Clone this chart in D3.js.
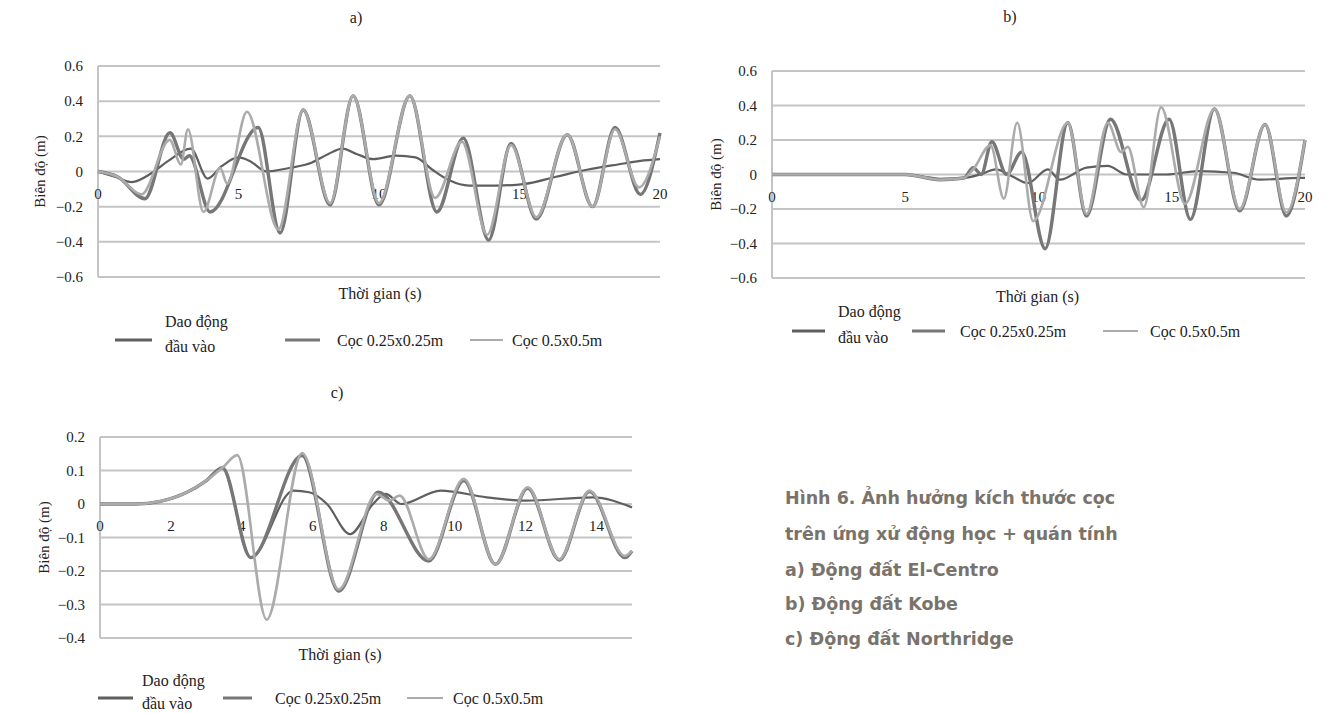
<!DOCTYPE html>
<html>
<head>
<meta charset="utf-8">
<script src="https://cdn.jsdelivr.net/npm/d3@7"></script>
<style>
  html, body { margin: 0; padding: 0; background: #ffffff; }
  svg { display: block; }
  .tick-label, .axis-title, .legend-text, .panel-title { font-family: "Liberation Serif", "Times New Roman", serif; fill: #222; }
  .caption { font-family: "DejaVu Sans", Verdana, sans-serif; font-weight: bold; fill: #7a736b; }
</style>
</head>
<body>
<svg id="chart" width="1333" height="713"></svg>
<script>
// ---- Series names and caption ----
const seriesNames = ["Dao động đầu vào", "Cọc 0.25x0.25m", "Cọc 0.5x0.5m"];
const captionLines = [
  "Hình 6. Ảnh hưởng kích thước cọc",
  "trên ứng xử động học + quán tính",
  "a) Động đất El-Centro",
  "b) Động đất Kobe",
  "c) Động đất Northridge"
];

// ---- a) El-Centro : [time (s), displacement (m)] ----
const elCentroTicksX = [0, 5, 10, 15, 20];
const elCentroTicksY = [-0.6, -0.4, -0.2, 0, 0.2, 0.4, 0.6];
const elCentroInput = [
  [0, 0], [0.6, -0.03], [1.2, -0.06], [1.9, -0.01], [2.5, 0.06], [3.3, 0.13], [3.9, -0.04],
  [4.4, 0.03], [5.0, 0.08], [5.4, 0.06], [6.0, 0.0], [6.8, 0.02], [7.6, 0.05], [8.2, 0.1],
  [8.7, 0.13], [9.2, 0.1], [9.8, 0.07], [10.6, 0.09], [11.3, 0.08], [11.9, 0.01], [12.5, -0.05],
  [13.2, -0.08], [14.2, -0.08], [15.2, -0.07], [16.3, -0.03], [17.4, 0.01], [18.5, 0.04],
  [19.3, 0.06], [20, 0.07]
];
const elCentroPile25 = [
  [0, 0], [0.7, -0.03], [1.67, -0.155], [2.56, 0.22], [3.05, 0.07], [3.25, 0.09], [3.99, -0.23],
  [5.7, 0.25], [6.48, -0.35], [7.3, 0.35], [8.26, -0.19], [9.08, 0.43], [10.0, -0.19],
  [11.1, 0.43], [12.06, -0.23], [13.0, 0.19], [13.9, -0.39], [14.7, 0.16], [15.6, -0.27],
  [16.7, 0.21], [17.6, -0.2], [18.4, 0.25], [19.3, -0.13], [20, 0.22]
];
const elCentroPile50 = [
  [0, 0], [0.7, -0.03], [1.55, -0.13], [2.55, 0.18], [2.95, 0.04], [3.2, 0.24], [3.75, -0.23],
  [4.35, 0.02], [4.6, -0.07], [5.3, 0.34], [6.42, -0.33], [7.3, 0.35], [8.26, -0.18],
  [9.08, 0.43], [10.0, -0.18], [11.1, 0.43], [12.0, -0.15], [12.95, 0.17], [13.85, -0.36],
  [14.7, 0.15], [15.6, -0.26], [16.7, 0.21], [17.6, -0.2], [18.4, 0.24], [19.25, -0.09], [20, 0.2]
];

// ---- b) Kobe ----
const kobeTicksX = [0, 5, 10, 15, 20];
const kobeTicksY = [-0.6, -0.4, -0.2, 0, 0.2, 0.4, 0.6];
const kobeInput = [
  [0, 0], [4.8, 0], [5.6, -0.01], [6.3, -0.025], [7.2, -0.02], [7.8, 0.0], [8.4, 0.03],
  [9.0, -0.01], [9.6, -0.05], [10.35, 0.03], [10.8, -0.03], [11.8, 0.04], [12.6, 0.05],
  [13.3, 0.0], [14.8, 0.0], [16.0, 0.02], [17.3, 0.01], [18.3, -0.03], [19.8, -0.02], [20, -0.02]
];
const kobePile25 = [
  [0, 0], [5, 0], [6.3, -0.03], [7.2, -0.02], [7.55, 0.04], [7.85, 0.0], [8.25, 0.19],
  [8.8, 0.0], [9.37, 0.13], [10.25, -0.43], [11.1, 0.3], [11.8, -0.24], [12.7, 0.32],
  [13.85, -0.15], [14.9, 0.32], [15.7, -0.26], [16.6, 0.38], [17.55, -0.21], [18.5, 0.29],
  [19.3, -0.24], [20, 0.2]
];
const kobePile50 = [
  [0, 0], [5, 0], [6.3, -0.03], [7.2, -0.02], [7.55, 0.03], [8.2, 0.17], [8.7, -0.14],
  [9.2, 0.3], [9.8, -0.27], [11.1, 0.3], [11.8, -0.23], [12.6, 0.3], [13.1, 0.13],
  [13.35, 0.16], [13.95, -0.19], [14.6, 0.39], [15.5, -0.17], [16.6, 0.38], [17.55, -0.2],
  [18.5, 0.29], [19.3, -0.22], [20, 0.2]
];

// ---- c) Northridge ----
const northridgeTicksX = [0, 2, 4, 6, 8, 10, 12, 14];
const northridgeTicksY = [-0.4, -0.3, -0.2, -0.1, 0, 0.1, 0.2];
const northridgeInput = [
  [0, 0], [1, 0], [1.7, 0.008], [2.45, 0.035], [3.0, 0.07], [3.45, 0.108], [4.25, -0.16],
  [5.45, 0.04], [5.9, 0.035], [6.4, 0.0], [7.05, -0.09], [7.7, 0.0], [8.05, 0.03], [8.5, 0.0],
  [9.6, 0.04], [10.9, 0.02], [12.0, 0.01], [13.9, 0.02], [15, -0.01]
];
const northridgePile25 = [
  [0, 0], [1, 0], [1.7, 0.008], [2.45, 0.035], [3.0, 0.07], [3.45, 0.108], [4.25, -0.16],
  [5.7, 0.145], [6.73, -0.26], [7.85, 0.035], [9.27, -0.17], [10.26, 0.07], [11.15, -0.18],
  [12.06, 0.047], [12.95, -0.167], [13.8, 0.037], [14.8, -0.16], [15, -0.14]
];
const northridgePile50 = [
  [0, 0], [1, 0], [1.7, 0.008], [2.45, 0.035], [3.0, 0.07], [3.45, 0.108], [3.87, 0.146],
  [4.7, -0.345], [5.7, 0.152], [6.73, -0.255], [7.8, 0.03], [8.15, 0.01], [8.45, 0.025],
  [9.27, -0.165], [10.26, 0.075], [11.15, -0.18], [12.06, 0.05], [12.95, -0.165],
  [13.8, 0.04], [14.8, -0.155], [15, -0.14]
];

// ---- Line styles for the three series ----
const seriesStyle = [
  { color: "#5f5f5f", width: 2.2 },
  { color: "#777777", width: 3.4 },
  { color: "#ababab", width: 2.6 }
];

const svg = d3.select("#chart");

function drawPanel(p) {
  const g = svg.append("g");
  const x = d3.scaleLinear().domain(p.xDomain).range([p.left, p.right]);
  const y = d3.scaleLinear().domain(p.yDomain).range([p.bottom, p.top]);

  // horizontal gridlines
  g.selectAll("line.grid").data(p.ticksY).join("line")
    .attr("x1", p.left).attr("x2", p.right)
    .attr("y1", d => y(d)).attr("y2", d => y(d))
    .attr("stroke", "#c4c4c4").attr("stroke-width", 2);

  // left axis line
  g.append("line")
    .attr("x1", p.left).attr("x2", p.left)
    .attr("y1", y(p.yDomain[0])).attr("y2", y(p.yDomain[1]))
    .attr("stroke", "#c4c4c4").attr("stroke-width", 2);

  // y tick labels
  const yFmt = v => (v === 0 ? "0" : d3.format(".1f")(v));
  g.selectAll("text.ytick").data(p.ticksY).join("text")
    .attr("class", "tick-label")
    .attr("x", p.left - 15).attr("y", d => y(d))
    .attr("dy", "0.35em").attr("text-anchor", "end")
    .attr("font-size", 15)
    .text(yFmt);

  // x tick labels sit just under the zero line
  g.selectAll("text.xtick").data(p.ticksX).join("text")
    .attr("class", "tick-label")
    .attr("x", d => x(d)).attr("y", y(0) + 27)
    .attr("text-anchor", "middle")
    .attr("font-size", 15)
    .text(d => d);

  // series lines
  const line = d3.line().x(d => x(d[0])).y(d => y(d[1])).curve(d3.curveMonotoneX);
  [p.input, p.pile25, p.pile50].forEach((s, i) => {
    g.append("path").datum(s)
      .attr("d", line)
      .attr("fill", "none")
      .attr("stroke", seriesStyle[i].color)
      .attr("stroke-width", seriesStyle[i].width)
      .attr("stroke-linejoin", "round");
  });

  // titles
  g.append("text").attr("class", "panel-title")
    .attr("x", p.titleX).attr("y", p.titleY)
    .attr("text-anchor", "middle").attr("font-size", 16)
    .text(p.title);
  g.append("text").attr("class", "axis-title")
    .attr("x", (p.left + p.right) / 2 + p.xTitleShift).attr("y", p.xTitleY)
    .attr("text-anchor", "middle").attr("font-size", 16)
    .text("Thời gian (s)");
  g.append("text").attr("class", "axis-title")
    .attr("transform", `translate(${p.yTitleX},${(y(p.yDomain[0]) + y(p.yDomain[1])) / 2}) rotate(-90)`)
    .attr("text-anchor", "middle").attr("dy", "0.35em").attr("font-size", 15)
    .text("Biên độ (m)");

  // legend
  const L = p.legend;
  const words = seriesNames[0].split(" ");
  L.lines.forEach((ln, i) => {
    g.append("line")
      .attr("x1", ln[0]).attr("x2", ln[1]).attr("y1", L.y).attr("y2", L.y)
      .attr("stroke", seriesStyle[i].color)
      .attr("stroke-width", i === 2 ? 2 : 3);
  });
  g.append("text").attr("class", "legend-text").attr("font-size", L.size)
    .attr("x", L.textX[0]).attr("y", L.y - L.gapUp).text(words.slice(0, 2).join(" "));
  g.append("text").attr("class", "legend-text").attr("font-size", L.size)
    .attr("x", L.textX[0]).attr("y", L.y + L.gapDown).text(words.slice(2).join(" "));
  [1, 2].forEach(i => {
    g.append("text").attr("class", "legend-text").attr("font-size", L.size)
      .attr("x", L.textX[i]).attr("y", L.y).attr("dy", "0.35em")
      .text(seriesNames[i]);
  });
}

drawPanel({
  title: "a)", titleX: 356, titleY: 23,
  xDomain: [0, 20], yDomain: [-0.6, 0.6],
  left: 98, right: 660, top: 66, bottom: 277,
  ticksX: elCentroTicksX, ticksY: elCentroTicksY,
  input: elCentroInput, pile25: elCentroPile25, pile50: elCentroPile50,
  xTitleShift: 1, xTitleY: 299, yTitleX: 40,
  legend: { y: 340, size: 16, gapUp: 13, gapDown: 12, lines: [[115, 152], [285, 320], [470, 503]], textX: [165, 337, 512] }
});

drawPanel({
  title: "b)", titleX: 1010, titleY: 22,
  xDomain: [0, 20], yDomain: [-0.6, 0.6],
  left: 772, right: 1305, top: 71, bottom: 278,
  ticksX: kobeTicksX, ticksY: kobeTicksY,
  input: kobeInput, pile25: kobePile25, pile50: kobePile50,
  xTitleShift: -1, xTitleY: 302, yTitleX: 716,
  legend: { y: 331, size: 16, gapUp: 14, gapDown: 12, lines: [[792, 825], [912, 945], [1103, 1138]], textX: [838, 960, 1150] }
});

drawPanel({
  title: "c)", titleX: 337, titleY: 398,
  xDomain: [0, 15], yDomain: [-0.4, 0.2],
  left: 100, right: 632, top: 437, bottom: 638,
  ticksX: northridgeTicksX, ticksY: northridgeTicksY,
  input: northridgeInput, pile25: northridgePile25, pile50: northridgePile50,
  xTitleShift: -26, xTitleY: 660, yTitleX: 44,
  legend: { y: 698, size: 16, gapUp: 12, gapDown: 11, lines: [[98, 133], [223, 252], [407, 443]], textX: [142, 275, 453] }
});

// figure caption
svg.append("g").selectAll("text").data(captionLines).join("text")
  .attr("class", "caption")
  .attr("x", 785)
  .attr("y", (d, i) => [504, 540, 576, 610, 645][i])
  .attr("font-size", 17.5)
  .text(d => d);
</script>
</body>
</html>
